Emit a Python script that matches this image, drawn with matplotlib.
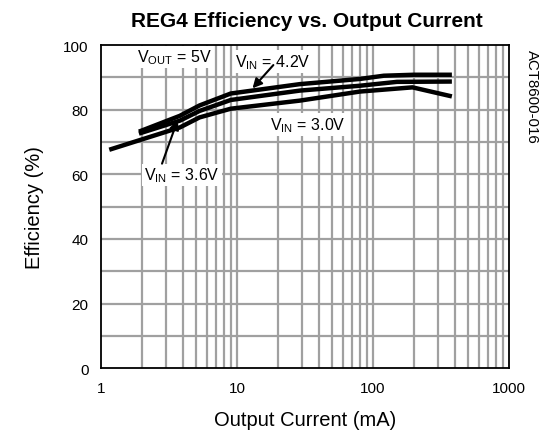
import numpy as np
import matplotlib
matplotlib.use("Agg")
import matplotlib.pyplot as plt

plt.rcParams['font.family'] = ['Liberation Sans', 'DejaVu Sans']
plt.rcParams['mathtext.fontset'] = 'custom'
plt.rcParams['mathtext.rm'] = 'Liberation Sans'
plt.rcParams['mathtext.it'] = 'Liberation Sans'

# curves (mA, %)
x_42 = [1.9, 3.8, 5.3, 9, 29, 80, 120, 200, 380]
y_42 = [73.2, 78.1, 81.3, 85.0, 87.9, 89.5, 90.5, 90.8, 90.8]
x_36 = [1.9, 3.8, 5.3, 9, 29, 80, 150, 380]
y_36 = [72.6, 76.6, 79.6, 83.0, 85.9, 87.4, 88.6, 88.7]
x_30 = [1.15, 1.9, 3.8, 5.3, 9, 29, 80, 195, 380]
y_30 = [67.6, 70.5, 74.5, 77.6, 80.3, 82.8, 85.6, 86.9, 84.1]

xticks = [1, 10, 100, 1000]
yticks = [0, 20, 40, 60, 80, 100]

fig = plt.figure(figsize=(5.41, 4.39), dpi=100)
ax = fig.add_axes([0.1867, 0.1588, 0.7542, 0.7364])
ax.set_xscale('log')
ax.set_xlim(1, 1000)
ax.set_ylim(0, 100)

# grid
minors = [m * d for d in (1, 10, 100) for m in range(2, 10)]
for v in minors + [10, 100]:
    ax.axvline(v, color='#a0a0a0', lw=1.6, zorder=1)
for v in range(10, 100, 10):
    ax.axhline(v, color='#a0a0a0', lw=1.6, zorder=1)

for xs, ys in [(x_42, y_42), (x_36, y_36), (x_30, y_30)]:
    ax.plot(xs, ys, color='black', lw=3.2, solid_capstyle='butt', zorder=3)

ax.set_xticks(xticks)
ax.set_xticklabels([str(t) for t in xticks])
ax.set_yticks(yticks)
ax.minorticks_off()
ax.tick_params(length=0, labelsize=11, pad=9)
for s in ax.spines.values():
    s.set_linewidth(1.3)
    s.set_zorder(5)

ax.set_xlabel('Output Current (mA)', fontsize=14.5, labelpad=11)
ax.set_ylabel('Efficiency (%)', fontsize=14.5, labelpad=14)
fig.text(0.568, 0.952, 'REG4 Efficiency vs. Output Current', ha='center', va='center',
         fontsize=15, fontweight='bold')
fig.text(0.983, 0.886, 'ACT8600-016', rotation=-90, ha='center', va='top', fontsize=10.8)

box = dict(facecolor='white', edgecolor='none', pad=1.5)
ax.text(1.85, 96.3, r'$\mathregular{V_{OUT}}$ = 5V', fontsize=11.5, va='center', bbox=box, zorder=4)
ax.text(9.6, 94.9, r'$\mathregular{V_{IN}}$ = 4.2V', fontsize=11.5, va='center', bbox=box, zorder=4)
ax.text(17.4, 75.3, r'$\mathregular{V_{IN}}$ = 3.0V', fontsize=11.5, va='center', bbox=box, zorder=4)
ax.text(2.08, 59.8, r'$\mathregular{V_{IN}}$ = 3.6V', fontsize=11.5, va='center', bbox=box, zorder=4)

arr = dict(arrowstyle='-|>', color='black', lw=1.5, mutation_scale=14, shrinkA=0, shrinkB=0)
ax.annotate('', xy=(13, 86.6), xytext=(18.5, 93.8), arrowprops=arr, zorder=6)
ax.annotate('', xy=(3.66, 76.8), xytext=(2.81, 63.3), arrowprops=arr, zorder=6)

fig.savefig('out.png', dpi=100)
